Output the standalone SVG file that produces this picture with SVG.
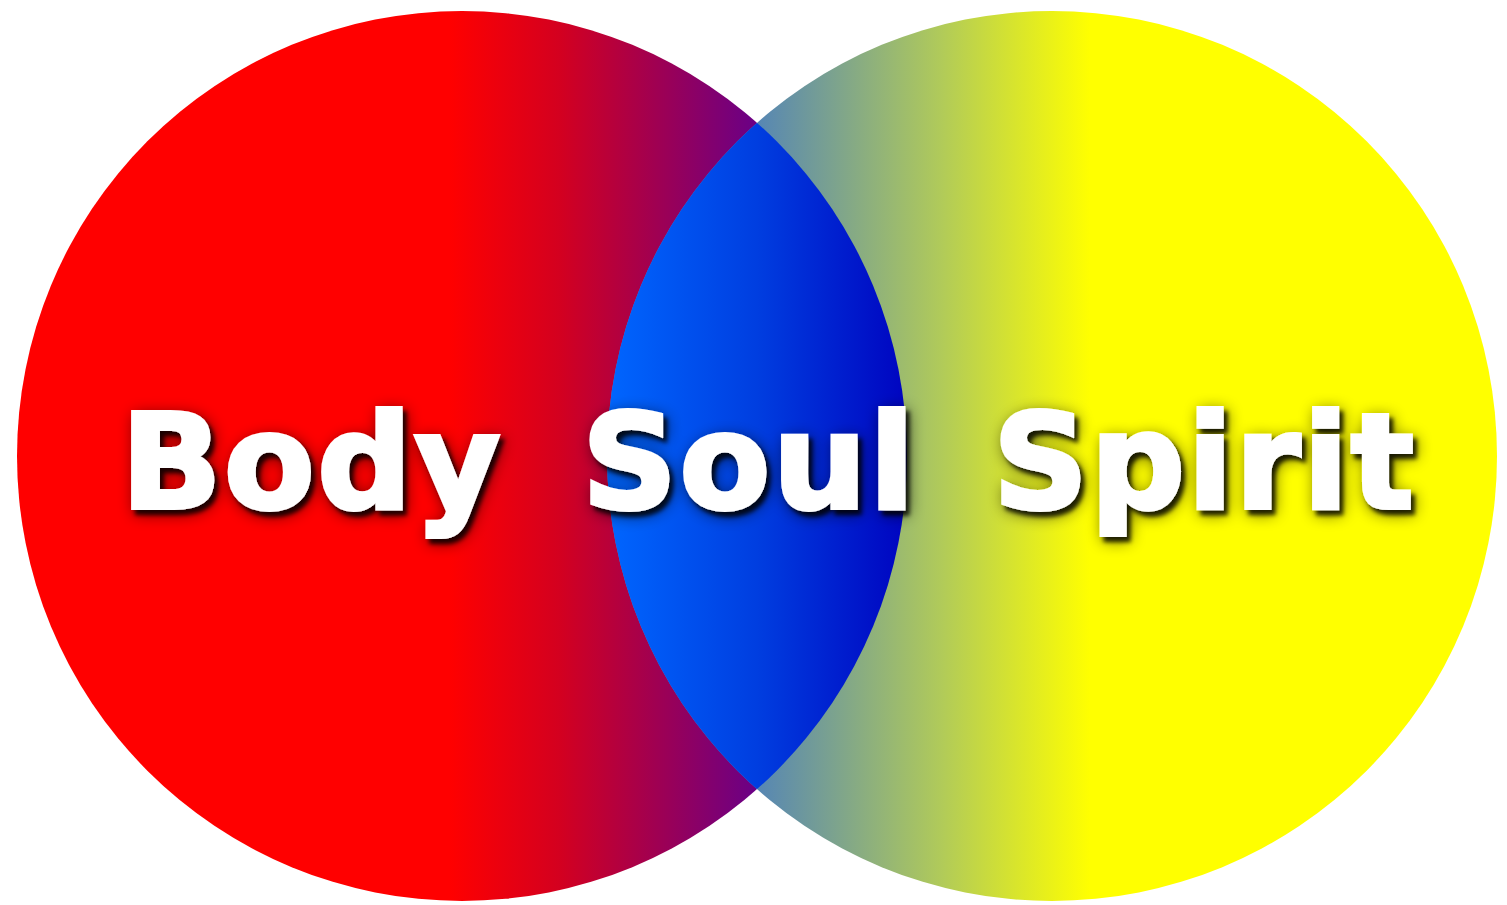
<svg xmlns="http://www.w3.org/2000/svg" width="1507" height="905" viewBox="0 0 1507 905">
  <defs>
    <linearGradient id="gRed" gradientUnits="userSpaceOnUse" x1="450" y1="0" x2="760" y2="0">
      <stop offset="0" stop-color="#ff0000"/>
      <stop offset="0.35" stop-color="#d4001f"/>
      <stop offset="1" stop-color="#680088"/>
    </linearGradient>
    <linearGradient id="gYellow" gradientUnits="userSpaceOnUse" x1="757" y1="0" x2="1090" y2="0">
      <stop offset="0" stop-color="#5686b4"/>
      <stop offset="0.55" stop-color="#b0ca5a"/>
      <stop offset="1" stop-color="#ffff00"/>
    </linearGradient>
    <linearGradient id="gBlue" gradientUnits="userSpaceOnUse" x1="607" y1="0" x2="907" y2="0">
      <stop offset="0" stop-color="#0066ff"/>
      <stop offset="0.5" stop-color="#003ee0"/>
      <stop offset="1" stop-color="#0004c0"/>
    </linearGradient>
    <clipPath id="clipLeft">
      <circle cx="462" cy="456" r="445"/>
    </clipPath>
    <filter id="shadow" x="-20%" y="-40%" width="140%" height="180%">
      <feGaussianBlur in="SourceAlpha" stdDeviation="8" result="b1"/>
      <feOffset in="b1" dx="3" dy="4" result="o1"/>
      <feComponentTransfer in="o1" result="s1"><feFuncA type="linear" slope="0.6"/></feComponentTransfer>
      <feGaussianBlur in="SourceAlpha" stdDeviation="2" result="b2"/>
      <feOffset in="b2" dx="4" dy="5" result="o2"/>
      <feComponentTransfer in="o2" result="s2"><feFuncA type="linear" slope="0.8"/></feComponentTransfer>
      <feMerge>
        <feMergeNode in="s1"/>
        <feMergeNode in="s2"/>
        <feMergeNode in="SourceGraphic"/>
      </feMerge>
    </filter>
  </defs>
  <style>
    .label { font-family: "DejaVu Sans", "Liberation Sans", sans-serif; font-weight: bold; font-size: 132px; letter-spacing: 2.5px; fill: #ffffff; stroke: #ffffff; stroke-width: 4px; stroke-linejoin: miter; filter: url(#shadow); }
  </style>
  <rect x="0" y="0" width="1507" height="905" fill="#ffffff"/>
  <g id="body">
    <circle cx="462" cy="456" r="445" fill="url(#gRed)"/>
  </g>
  <g id="spirit">
    <circle cx="1052" cy="456" r="445" fill="url(#gYellow)"/>
  </g>
  <g id="soul">
    <circle cx="1052" cy="456" r="445" fill="url(#gBlue)" clip-path="url(#clipLeft)"/>
  </g>
  <g id="connectors"></g>
  <g id="labels">
    <text class="label" x="121" y="508">Body</text>
    <text class="label" x="582" y="508">Soul</text>
    <text class="label" x="993" y="508">Spirit</text>
  </g>
</svg>
